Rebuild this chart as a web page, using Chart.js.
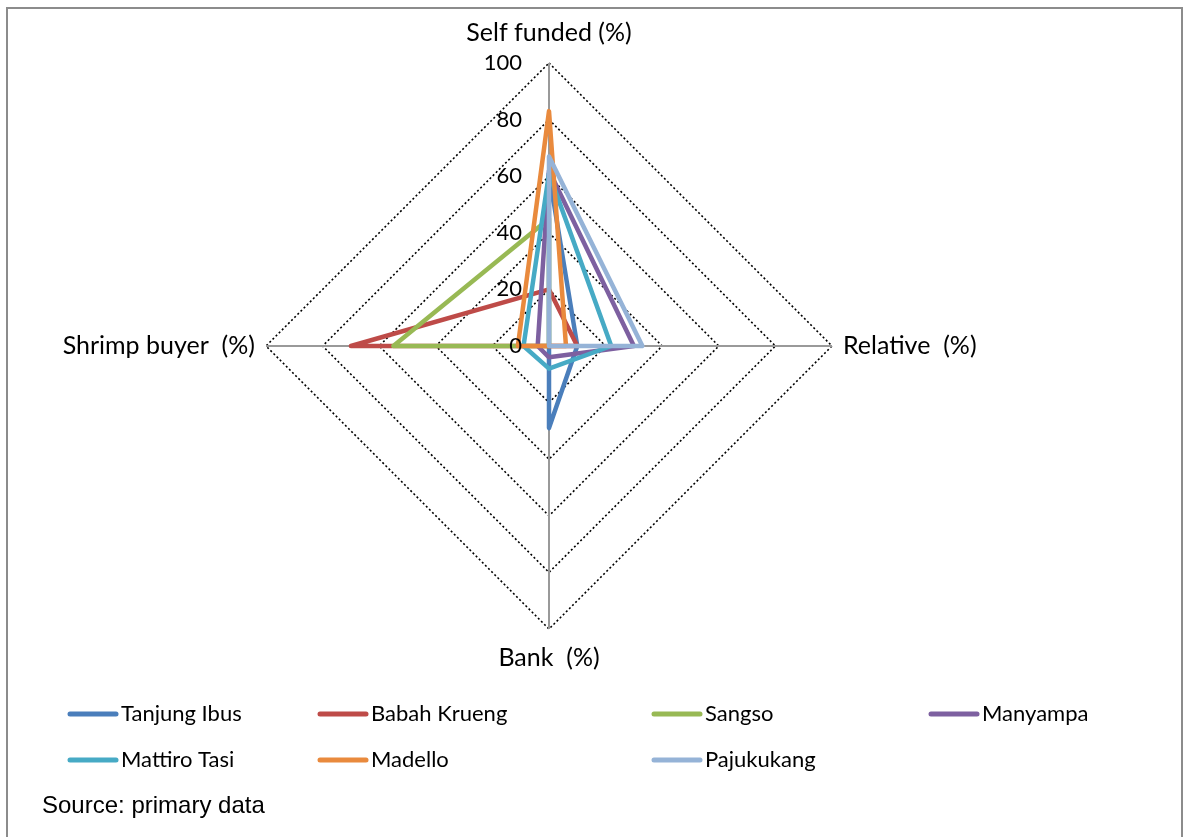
<!DOCTYPE html>
<html>
<head>
<meta charset="utf-8">
<script src="https://cdn.jsdelivr.net/npm/chart.js@4/dist/chart.umd.min.js"></script>
<style>
  html, body { margin: 0; padding: 0; background: #fff; }
  #wrap { position: relative; width: 1184px; height: 837px; }
</style>
</head>
<body>
<div id="wrap"><canvas id="c"></canvas></div>
<script>
// Sources of capital per village (percent of respondents)
const categories = ['Self funded (%)', 'Relative  (%)', 'Bank  (%)', 'Shrimp buyer  (%)'];
const tickValues = [0, 20, 40, 60, 80, 100];

const villages = ['Tanjung Ibus', 'Babah Krueng', 'Sangso', 'Manyampa', 'Mattiro Tasi', 'Madello', 'Pajukukang'];
const tanjungIbus = [61, 10, 29, 0];
const babahKrueng = [20, 10, 0, 70];
const sangso      = [45, 0, 0, 55];
const manyampa    = [62, 30, 4, 4];
const mattiroTasi = [61, 22, 8, 9];
const madello     = [83, 6, 0, 11];
const pajukukang  = [67, 33, 0, 0];
const seriesValues = [tanjungIbus, babahKrueng, sangso, manyampa, mattiroTasi, madello, pajukukang];

const colors = ['#4A7EBB', '#BE4B48', '#98B954', '#7D60A0', '#46AAC5', '#E98A3D', '#95B3D7'];

const FONT = 'Lato, "Open Sans", sans-serif';
const NARROW = '"Liberation Sans Narrow", "Liberation Sans", Arial, sans-serif';

// Fixed plot geometry inside the canvas
const CENTER_X = 549, CENTER_Y = 346, RADIUS = 283;

const decorations = {
  id: 'decorations',
  beforeDraw(chart) {
    const ctx = chart.ctx;
    ctx.save();
    ctx.fillStyle = '#fff';
    ctx.fillRect(0, 0, chart.width, chart.height);
    // outer frame (open at the bottom)
    ctx.strokeStyle = '#8c8c8c';
    ctx.lineWidth = 2;
    ctx.beginPath();
    ctx.moveTo(7, chart.height);
    ctx.lineTo(7, 8);
    ctx.lineTo(1182, 8);
    ctx.lineTo(1182, chart.height);
    ctx.stroke();
    ctx.restore();
  },
  afterDraw(chart) {
    const ctx = chart.ctx;
    const scale = chart.scales.r;
    ctx.save();
    // tick labels along the first spoke
    ctx.fillStyle = '#000';
    ctx.font = '22px ' + FONT;
    ctx.textAlign = 'right';
    ctx.textBaseline = 'middle';
    tickValues.forEach(v => {
      const p = scale.getPointPositionForValue(0, v);
      ctx.fillText(String(v), p.x - 27, p.y);
    });
    // spoke titles
    ctx.font = '25px ' + FONT;
    categories.forEach((label, i) => {
      const p = scale.getPointPosition(i, scale.drawingArea);
      let x = p.x, y = p.y;
      if (i === 0) { ctx.textAlign = 'center'; y -= 30; }
      else if (i === 1) { ctx.textAlign = 'left'; x += 11; }
      else if (i === 2) { ctx.textAlign = 'center'; y += 29; }
      else { ctx.textAlign = 'right'; x -= 11; }
      ctx.fillText(label, x, y);
    });
    // legend
    const colX = [68, 318, 652, 929];
    const rowY = [714, 760];
    ctx.textAlign = 'left';
    ctx.font = '22px ' + FONT;
    chart.data.datasets.forEach((ds, i) => {
      const x = colX[i % 4], y = rowY[Math.floor(i / 4)];
      ctx.strokeStyle = ds.borderColor;
      ctx.lineWidth = 5;
      ctx.lineCap = 'round';
      ctx.beginPath();
      ctx.moveTo(x + 2, y);
      ctx.lineTo(x + 48, y);
      ctx.stroke();
      ctx.fillText(ds.label, x + 53, y);
    });
    // source note
    ctx.font = '24px ' + NARROW;
    ctx.fillText('Source: primary data', 42, 806);
    ctx.restore();
  }
};

new Chart(document.getElementById('c'), {
  type: 'radar',
  data: {
    labels: categories,
    datasets: villages.map((name, i) => ({
      label: name,
      data: seriesValues[i],
      borderColor: colors[i],
      backgroundColor: colors[i],
      borderWidth: 4.5,
      fill: false,
      tension: 0,
      pointRadius: 0,
      pointHoverRadius: 0,
      borderJoinStyle: 'round',
      borderCapStyle: 'round',
      order: villages.length - i
    }))
  },
  options: {
    responsive: true,
    maintainAspectRatio: false,
    devicePixelRatio: 1,
    animation: false,
    events: [],
    plugins: { legend: { display: false }, tooltip: { enabled: false } },
    scales: {
      r: {
        min: 0,
        max: 100,
        ticks: { display: false, stepSize: 20 },
        pointLabels: { display: false },
        grid: { circular: false, color: '#000', lineWidth: 1.6 },
        border: { dash: [2, 2.4] },
        angleLines: { color: '#999', lineWidth: 2, borderDash: [] },
        afterFit(scale) {
          scale.xCenter = CENTER_X;
          scale.yCenter = CENTER_Y;
          scale.drawingArea = RADIUS;
        }
      }
    }
  },
  plugins: [decorations]
});
</script>
</body>
</html>
